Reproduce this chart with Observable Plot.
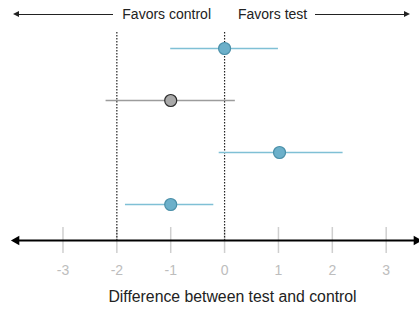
<!DOCTYPE html>
<html>
<head>
<meta charset="utf-8">
<script src="https://cdn.jsdelivr.net/npm/d3@7"></script>
<script src="https://cdn.jsdelivr.net/npm/@observablehq/plot@0.6"></script>
<style>
  html, body { margin: 0; padding: 0; background: #fff; }
  body { width: 419px; height: 309px; overflow: hidden; font-family: "Liberation Sans", Arial, sans-serif; }
  #header { position: relative; width: 419px; height: 30px; font-size: 14px; color: #222; }
  #header .lbl { position: absolute; top: 6px; line-height: 16px; white-space: nowrap; }
  #header .line { position: absolute; top: 14px; height: 1px; background: #222; }
  #header .head { position: absolute; top: 11px; width: 0; height: 0; border-top: 3.5px solid transparent; border-bottom: 3.5px solid transparent; }
</style>
</head>
<body>
<div id="header"></div>
<div id="chart"></div>
<script>
// ---- data ----
const rows = ["Row 1", "Row 2", "Row 3", "Row 4"];
const estimates = [0, -1, 1.02, -1];
const lowers = [-1, -2.2, -0.1, -1.84];
const uppers = [1, 0.2, 2.2, -0.2];
const groups = ["test", "control", "test", "test"];
const tickValues = [-3, -2, -1, 0, 1, 2, 3];
const referenceLines = [-2, 0];
const headerLabels = ["Favors control", "Favors test"];
const axisTitle = "Difference between test and control";

const data = rows.map((row, i) => ({row, est: estimates[i], lo: lowers[i], hi: uppers[i], group: groups[i]}));

// ---- header (HTML) ----
const header = document.getElementById("header");
header.innerHTML = `
  <div class="line" style="left:15px;width:98px"></div>
  <div class="head" style="left:13px;border-right:6px solid #222"></div>
  <div class="lbl" style="right:208px">${headerLabels[0]}</div>
  <div class="lbl" style="left:238px">${headerLabels[1]}</div>
  <div class="line" style="left:315px;width:90px"></div>
  <div class="head" style="left:404px;border-left:6px solid #222"></div>
`;

const lineColor = g => g === "control" ? "#9c9c9c" : "#7fc0d5";
const fillColor = g => g === "control" ? "#a9a9a9" : "#6cb0ca";
const strokeColor = g => g === "control" ? "#2a2a2a" : "#4a8fa8";

const chart = Plot.plot({
  width: 419,
  height: 279,
  marginTop: 2,
  marginBottom: 69,
  marginLeft: 14,
  marginRight: 1,
  style: {fontFamily: "'Liberation Sans', Arial, sans-serif", background: "#fff"},
  x: {domain: [-3.9, 3.6], axis: null},
  y: {type: "point", domain: rows, range: [17, 174], padding: 0, axis: null},
  marks: [
    Plot.axisX({ticks: tickValues, tickFormat: d => String(d), tickSize: 26, dy: -13, tickPadding: 12, stroke: "#cfcfcf", strokeWidth: 1.5, fill: "#bdbdbd", color: "#bdbdbd", fontSize: 14, label: null}),
    Plot.frame({anchor: "bottom", stroke: "#000", strokeWidth: 2}),
    Plot.dot({length: 1}, {frameAnchor: "bottom-left", symbol: "triangle", rotate: -90, r: 3.6, fill: "#000", dx: 2}),
    Plot.dot({length: 1}, {frameAnchor: "bottom-right", symbol: "triangle", rotate: 90, r: 3.6, fill: "#000", dx: -2}),
    Plot.ruleX(referenceLines, {stroke: "#222", strokeWidth: 1.2, strokeDasharray: "1.5,1.5"}),
    Plot.ruleY(data, {y: "row", x1: "lo", x2: "hi", stroke: d => lineColor(d.group), strokeWidth: 1.5}),
    Plot.dot(data, {x: "est", y: "row", r: 6, fill: d => fillColor(d.group), stroke: d => strokeColor(d.group), strokeWidth: 1.2}),
    Plot.text([axisTitle], {frameAnchor: "bottom", dx: 16, dy: 61, fontSize: 15.8, fill: "#222"})
  ]
});
document.getElementById("chart").appendChild(chart);
</script>
</body>
</html>
